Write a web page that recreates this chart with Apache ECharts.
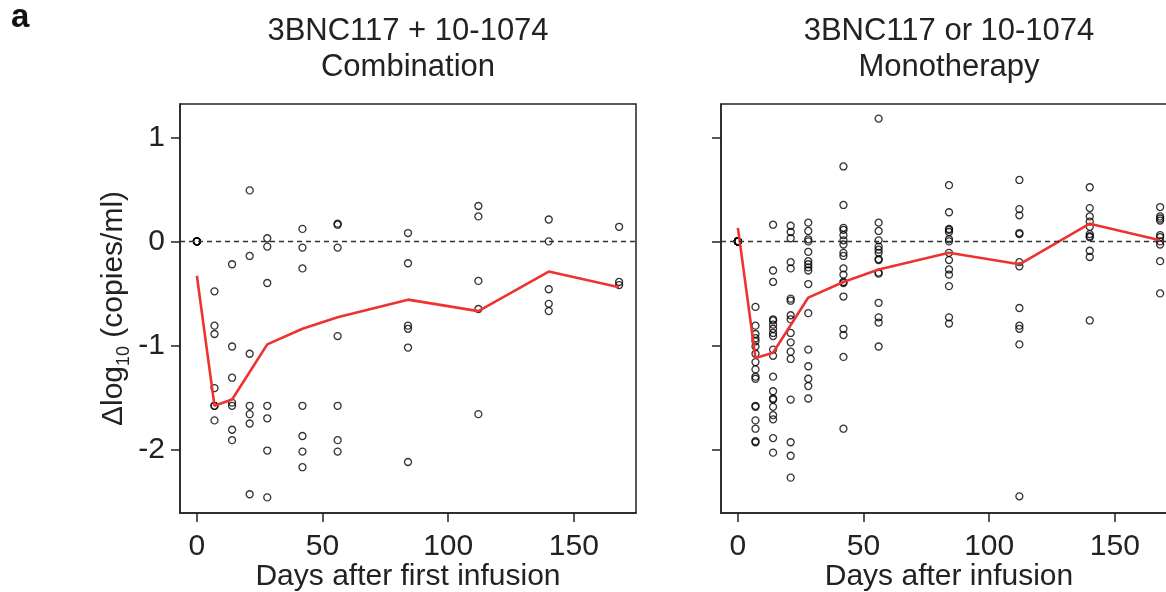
<!DOCTYPE html>
<html>
<head>
<meta charset="utf-8">
<script src="https://cdn.jsdelivr.net/npm/echarts@6/dist/echarts.min.js"></script>
<style>
  html, body { margin: 0; padding: 0; background: #fff; }
  #chart { width: 1166px; height: 592px; }
</style>
</head>
<body>
<div id="chart"></div>
<script>
const days = [0, 7, 14, 21, 28, 42, 56, 84, 112, 140, 168]

// Combination (3BNC117 + 10-1074), one list per day
const comboValues = [
  [0, 0, 0, 0, 0, 0, 0],
  [-0.48, -0.81, -0.89, -1.41, -1.58, -1.58, -1.72],
  [-0.22, -1.01, -1.31, -1.55, -1.58, -1.81, -1.91],
  [0.49, -0.14, -1.08, -1.58, -1.66, -1.75, -2.43],
  [0.03, -0.05, -0.40, -1.58, -1.70, -2.01, -2.46],
  [0.12, -0.06, -0.26, -1.58, -1.87, -2.02, -2.17],
  [0.17, 0.16, -0.06, -0.91, -1.58, -1.91, -2.02],
  [0.08, -0.21, -0.81, -0.84, -1.02, -2.12],
  [0.34, 0.24, -0.38, -0.65, -1.66],
  [0.21, 0.00, -0.46, -0.60, -0.67],
  [0.14, -0.39, -0.42]
]

// Monotherapy (3BNC117 or 10-1074)
const monoValues = [
  [0, 0, 0, 0, 0, 0, 0, 0, 0, 0, 0, 0, 0, 0, 0, 0, 0],
  [-0.63, -0.81, -0.89, -0.93, -0.96, -1.01, -1.08, -1.16, -1.23, -1.30, -1.32, -1.58, -1.59, -1.72, -1.80, -1.92, -1.93],
  [0.16, -0.28, -0.39, -0.75, -0.76, -0.80, -0.84, -0.88, -0.91, -1.04, -1.10, -1.30, -1.44, -1.51, -1.52, -1.59, -1.67, -1.71, -1.89, -2.03],
  [0.15, 0.09, 0.03, -0.20, -0.26, -0.55, -0.57, -0.71, -0.75, -0.88, -0.97, -1.06, -1.13, -1.52, -1.93, -2.06, -2.27],
  [0.18, 0.10, 0.02, 0.00, -0.10, -0.19, -0.22, -0.25, -0.28, -0.41, -0.69, -1.04, -1.20, -1.32, -1.39, -1.51],
  [0.72, 0.35, 0.13, 0.11, 0.06, 0.01, -0.03, -0.11, -0.14, -0.26, -0.32, -0.39, -0.40, -0.53, -0.84, -0.90, -1.11, -1.80],
  [1.18, 0.18, 0.10, 0.01, -0.05, -0.08, -0.11, -0.17, -0.18, -0.30, -0.31, -0.59, -0.73, -0.78, -1.01],
  [0.54, 0.28, 0.12, 0.11, 0.09, 0.02, 0.00, -0.11, -0.18, -0.27, -0.32, -0.43, -0.73, -0.79],
  [0.59, 0.31, 0.25, 0.08, 0.07, -0.20, -0.24, -0.64, -0.81, -0.84, -0.99, -2.45],
  [0.52, 0.32, 0.24, 0.19, 0.14, 0.07, 0.05, 0.04, -0.09, -0.15, -0.76],
  [0.33, 0.24, 0.22, 0.20, 0.06, 0.04, 0.00, -0.03, -0.19, -0.50]
]

// red summary lines
const lineDays = [0, 7, 14, 28, 42, 56, 84, 112, 140, 168]
const comboLine = [-0.33, -1.58, -1.52, -0.99, -0.84, -0.73, -0.56, -0.67, -0.29, -0.44]
const monoLine = [0.13, -1.12, -1.07, -0.54, -0.39, -0.27, -0.11, -0.22, 0.17, 0.01]

const xTicks = [0, 50, 100, 150]
const yTicks = [-2, -1, 0, 1]

const FONT = "'Liberation Sans', Arial, Helvetica, sans-serif"
const INK = '#222'

const toPoints = (values) =>
  values.flatMap((list, i) => list.map(v => [days[i], v]))

const chart = echarts.init(document.getElementById('chart'), null, { renderer: 'canvas' })

const gridAt = (left) => ({
  left: left,
  top: 104,
  width: 456,
  height: 409,
  show: true,
  borderColor: INK,
  borderWidth: 1.5,
  outerBoundsMode: 'none',
  containLabel: false,
})

const xAxisFor = (idx, title) => ({
  type: 'value',
  gridIndex: idx,
  position: 'bottom',
  min: -6.72,
  max: 174.72,
  splitLine: { show: false },
  axisLine: { show: true, onZero: false, lineStyle: { color: INK, width: 1.5 } },
  axisTick: { show: true, inside: false, length: 9, lineStyle: { color: INK, width: 1.5 }, customValues: xTicks },
  axisLabel: { fontSize: 30, color: INK, fontFamily: FONT, margin: 19, customValues: xTicks },
  name: title,
  nameLocation: 'middle',
  nameGap: 64,
  nameMoveOverlap: false,
  nameTextStyle: { fontSize: 30, color: INK, fontFamily: FONT, verticalAlign: 'middle' },
})

const yAxisFor = (idx, withLabels) => ({
  type: 'value',
  gridIndex: idx,
  position: 'left',
  min: -2.61,
  max: 1.32,
  splitLine: { show: false },
  axisLine: { show: true, onZero: false, lineStyle: { color: INK, width: 1.5 } },
  axisTick: { show: true, inside: false, length: 9, lineStyle: { color: INK, width: 1.5 }, customValues: yTicks },
  axisLabel: { show: withLabels, fontSize: 30, color: INK, fontFamily: FONT, margin: 15, customValues: yTicks },
  name: withLabels ? '{b|Δlog}{s|10}{b| (copies/ml)}' : '',
  nameLocation: 'middle',
  nameRotate: 90,
  nameGap: 47,
  nameTextStyle: {
    color: INK,
    fontFamily: FONT,
    rich: {
      b: { fontSize: 30, color: INK, fontFamily: FONT, lineHeight: 38, verticalAlign: 'middle' },
      s: { fontSize: 18, color: INK, fontFamily: FONT, lineHeight: 14, verticalAlign: 'bottom' },
    },
  },
})

const scatterSeries = (idx, values) => ({
  type: 'scatter',
  xAxisIndex: idx,
  yAxisIndex: idx,
  data: toPoints(values),
  symbol: 'circle',
  symbolSize: 7,
  itemStyle: { color: 'rgba(0,0,0,0)', borderColor: '#000', borderWidth: 1.3 },
  z: 3,
  markLine: {
    silent: true,
    symbol: 'none',
    label: { show: false },
    lineStyle: { color: '#333', type: [5, 4], width: 1.3 },
    data: [{ yAxis: 0 }],
  },
})

const lineSeries = (idx, values) => ({
  type: 'line',
  xAxisIndex: idx,
  yAxisIndex: idx,
  data: lineDays.map((d, i) => [d, values[i]]),
  showSymbol: false,
  lineStyle: { color: '#ee3230', width: 2.6 },
  z: 4,
})

const titleAt = (x, text) => ({
  text: text,
  left: x,
  top: 13,
  padding: 0,
  textAlign: 'center',
  textStyle: { fontSize: 31, fontWeight: 'normal', color: INK, fontFamily: FONT, lineHeight: 36 },
})

chart.setOption({
  animation: false,
  backgroundColor: '#fff',
  title: [
    { text: 'a', left: 11, top: 1, padding: 0, textStyle: { fontSize: 33, fontWeight: 'bold', color: '#111', fontFamily: FONT } },
    titleAt(408, '3BNC117 + 10-1074\nCombination'),
    titleAt(949, '3BNC117 or 10-1074\nMonotherapy'),
  ],
  grid: [gridAt(180), gridAt(721)],
  xAxis: [xAxisFor(0, 'Days after first infusion'), xAxisFor(1, 'Days after infusion')],
  yAxis: [yAxisFor(0, true), yAxisFor(1, false)],
  series: [
    scatterSeries(0, comboValues),
    lineSeries(0, comboLine),
    scatterSeries(1, monoValues),
    lineSeries(1, monoLine),
  ],
})
</script>
</body>
</html>
